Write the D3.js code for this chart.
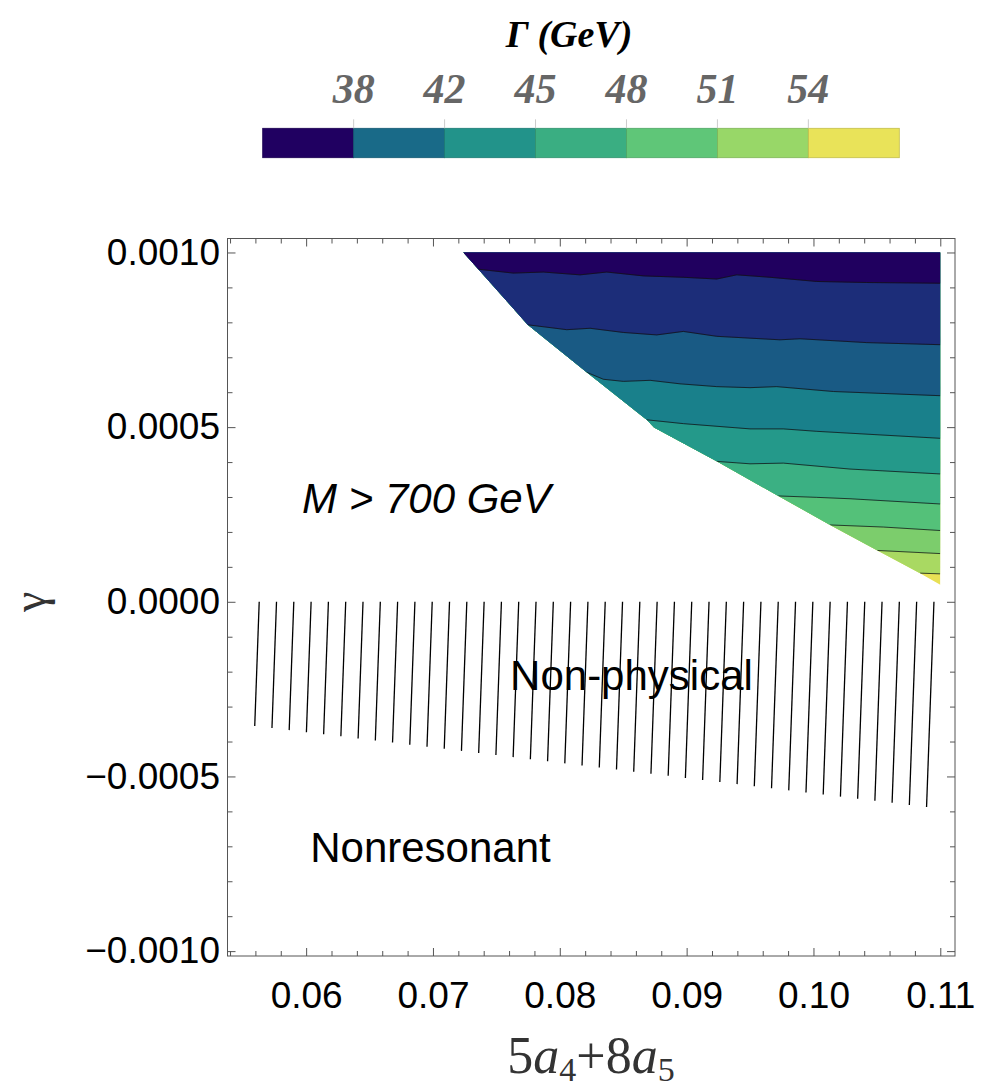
<!DOCTYPE html>
<html>
<head>
<meta charset="utf-8">
<script src="https://cdn.jsdelivr.net/npm/d3@7"></script>
<style>
	body { margin: 0; background: #fff; }
	svg { display: block; }
</style>
</head>
<body>
<svg id="chart" width="989" height="1089"></svg>
<script>
// Colour bar (Gamma in GeV)
const legendTicks = [38, 42, 45, 48, 51, 54];
const legendColors = ["#200061", "#196a88", "#22938a", "#3aae82", "#5fc678", "#98d768", "#e9e359"];

// Axis ticks
const xTicks = [0.06, 0.07, 0.08, 0.09, 0.10, 0.11];
const yTicks = [-0.001, -0.0005, 0, 0.0005, 0.001];

// Lower-left edge of the M < 700 GeV region, [5a4+8a5, gamma]
const regionEdge = [
	[0.07240, 0.001000],
	[0.07747, 0.000793],
	[0.08212, 0.000657],
	[0.08685, 0.000521],
	[0.08743, 0.000499],
	[0.09237, 0.000402],
	[0.09723, 0.000303],
	[0.10131, 0.000220],
	[0.10504, 0.000147],
	[0.10840, 0.000082],
	[0.11000, 0.000049]
];

// Contour lines, top to bottom
const contourLines = [
	[[0.07358, 0.000952], [0.07634, 0.000941], [0.07871, 0.000944], [0.08160, 0.000936], [0.08370, 0.000944], [0.08659, 0.000933], [0.08974, 0.000929], [0.09237, 0.000924], [0.09395, 0.000936], [0.09658, 0.000929], [0.10026, 0.000917], [0.10420, 0.000914], [0.11000, 0.000912]],
	[[0.07747, 0.000793], [0.08055, 0.000779], [0.08239, 0.000783], [0.08501, 0.000771], [0.08764, 0.000764], [0.08974, 0.000774], [0.09237, 0.000760], [0.09736, 0.000750], [0.09894, 0.000753], [0.10420, 0.000742], [0.11000, 0.000736]],
	[[0.08212, 0.000657], [0.08344, 0.000637], [0.08501, 0.000631], [0.08712, 0.000634], [0.08948, 0.000624], [0.09237, 0.000616], [0.09500, 0.000613], [0.09710, 0.000616], [0.10157, 0.000602], [0.11000, 0.000590]],
	[[0.08685, 0.000521], [0.08974, 0.000510], [0.09500, 0.000495], [0.09763, 0.000495], [0.10026, 0.000488], [0.11000, 0.000468]],
	[[0.09237, 0.000402], [0.09500, 0.000395], [0.09763, 0.000397], [0.10288, 0.000380], [0.11000, 0.000366]],
	[[0.09723, 0.000303], [0.10026, 0.000299], [0.10288, 0.000295], [0.11000, 0.000280]],
	[[0.10131, 0.000220], [0.10551, 0.000214], [0.11000, 0.000204]],
	[[0.10504, 0.000147], [0.11000, 0.000138]],
	[[0.10840, 0.000082], [0.11000, 0.000080]]
];

// Band fills, top to bottom
const bandColors = ["#20005f", "#1c2d79", "#195a84", "#19808b", "#24998a", "#3bb083", "#54c179", "#7ccd6c", "#a9d962", "#e8e055"];

// Non-physical (hatched) region: gamma from 0 down to a sloping edge
const nonPhysX = [0.0563, 0.1095];
const nonPhysLow = [-0.000357, -0.000590];

// Text in the plot
const annotations = [
	{text: "M > 700 GeV", x: 0.05968, y: 0.000254, italic: true},
	{text: "Non-physical", x: 0.07608, y: -0.000252, italic: false},
	{text: "Nonresonant", x: 0.06032, y: -0.000745, italic: false}
];

const svg = d3.select("#chart");

// Setup margins
const margin = {top: 238.5, left: 227.5};
const width = 727.5,
	height = 717.5;

const x = d3.scaleLinear().domain([0.0538, 0.11116]).range([0, width]);
const y = d3.scaleLinear().domain([-0.001014, 0.00104]).range([height, 0]);

const g = svg.append("g").attr("transform", "translate(" + margin.left + "," + margin.top + ")");

// Clip for the contour region
const regionPts = regionEdge.concat([[0.11, 0.001]]);
svg.append("defs").append("clipPath")
	.attr("id", "region")
	.append("path")
		.attr("d", "M" + regionPts.map(function(d) { return x(d[0]) + "," + y(d[1]); }).join("L") + "Z");

const bands = g.append("g").attr("clip-path", "url(#region)");

// Bottom band fills the whole region, upper bands painted over it
bands.append("rect")
	.attr("x", 0).attr("y", 0)
	.attr("width", width).attr("height", height)
	.attr("fill", bandColors[bandColors.length - 1]);

for (let i = contourLines.length - 1; i >= 0; i--) {
	const line = contourLines[i];
	const pts = line.map(function(d) { return [x(d[0]), y(d[1])]; });
	pts.push([width, 0], [0, 0], [0, y(line[0][1])]);
	bands.append("path")
		.attr("d", "M" + pts.join("L") + "Z")
		.attr("fill", bandColors[i])
		.attr("stroke", bandColors[i])
		.attr("stroke-width", 0.5);
}

const contour = d3.line()
	.x(function(d) { return x(d[0]); })
	.y(function(d) { return y(d[1]); });

bands.selectAll(".contour")
	.data(contourLines)
	.enter().append("path")
		.attr("class", "contour")
		.attr("d", contour)
		.attr("fill", "none")
		.attr("stroke", "#111")
		.attr("stroke-opacity", 0.75)
		.attr("stroke-width", 1);

// Hatching of the non-physical region
const hatchCount = 40;
const tilt = 0.036;
const x0 = x(nonPhysX[0]), x1 = x(nonPhysX[1]);
const yTop = y(0);
const b = (y(nonPhysLow[1]) - y(nonPhysLow[0])) / (x1 - x0);
const a = y(nonPhysLow[0]) - b * x0;
const hatch = d3.range(hatchCount).map(function(i) {
	const xt = x0 + i * (x1 - x0) / (hatchCount - 1);
	const yb = (a + b * xt + b * tilt * yTop) / (1 + b * tilt);
	return [xt, yTop, xt - tilt * (yb - yTop), yb];
});

g.selectAll(".hatch")
	.data(hatch)
	.enter().append("line")
		.attr("class", "hatch")
		.attr("x1", function(d) { return d[0]; })
		.attr("y1", function(d) { return d[1]; })
		.attr("x2", function(d) { return d[2]; })
		.attr("y2", function(d) { return d[3]; })
		.attr("stroke", "#000")
		.attr("stroke-width", 1.3);

// Annotations
g.selectAll(".note")
	.data(annotations)
	.enter().append("text")
		.attr("class", "note")
		.attr("x", function(d) { return x(d.x); })
		.attr("y", function(d) { return y(d.y); })
		.style("font", function(d) { return (d.italic ? "italic " : "") + "42px 'Liberation Sans'"; })
		.attr("fill", "#000")
		.text(function(d) { return d.text; });

// Axes
const xMinor = d3.range(27, 56).map(function(i) { return +(i * 0.002).toFixed(3); }).filter(function(v) { return xTicks.indexOf(v) < 0; });
const yMinor = d3.range(-10, 11).map(function(i) { return +(i * 0.0001).toFixed(4); }).filter(function(v) { return yTicks.indexOf(v) < 0; });

function styleAxis(sel) {
	sel.select(".domain").remove();
	sel.selectAll("line").attr("stroke", "#555");
	sel.selectAll("text")
		.attr("fill", "#000")
		.style("font", "37px 'Liberation Sans'");
}

// X Axis
g.append("g")
	.attr("transform", "translate(0," + height + ")")
	.call(d3.axisBottom(x).tickValues(xTicks).tickFormat(d3.format(".2f")).tickSizeInner(-8).tickSizeOuter(0).tickPadding(26))
	.call(styleAxis);
g.append("g")
	.attr("transform", "translate(0," + height + ")")
	.call(d3.axisBottom(x).tickValues(xMinor).tickFormat("").tickSizeInner(-5).tickSizeOuter(0))
	.call(styleAxis);
g.append("g")
	.call(d3.axisTop(x).tickValues(xTicks).tickFormat("").tickSizeInner(-8).tickSizeOuter(0))
	.call(styleAxis);
g.append("g")
	.call(d3.axisTop(x).tickValues(xMinor).tickFormat("").tickSizeInner(-5).tickSizeOuter(0))
	.call(styleAxis);

// Y Axis
g.append("g")
	.call(d3.axisLeft(y).tickValues(yTicks).tickFormat(d3.format(".4f")).tickSizeInner(-8).tickSizeOuter(0).tickPadding(7.5))
	.call(styleAxis);
g.append("g")
	.call(d3.axisLeft(y).tickValues(yMinor).tickFormat("").tickSizeInner(-5).tickSizeOuter(0))
	.call(styleAxis);
g.append("g")
	.attr("transform", "translate(" + width + ",0)")
	.call(d3.axisRight(y).tickValues(yTicks).tickFormat("").tickSizeInner(-8).tickSizeOuter(0))
	.call(styleAxis);
g.append("g")
	.attr("transform", "translate(" + width + ",0)")
	.call(d3.axisRight(y).tickValues(yMinor).tickFormat("").tickSizeInner(-5).tickSizeOuter(0))
	.call(styleAxis);

// Frame
g.append("rect")
	.attr("width", width)
	.attr("height", height)
	.attr("fill", "none")
	.attr("stroke", "#555")
	.attr("stroke-width", 1);

// Axis titles
svg.append("text")
	.attr("transform", "translate(45," + (margin.top + y(0)) + ") rotate(-90)")
	.attr("text-anchor", "middle")
	.style("font", "46px 'Liberation Serif'")
	.attr("fill", "#333")
	.text("γ");

const xTitle = svg.append("text")
	.attr("x", 591)
	.attr("y", 1073)
	.attr("text-anchor", "middle")
	.style("font", "52px 'Liberation Serif'")
	.attr("fill", "#333");
xTitle.append("tspan").text("5");
xTitle.append("tspan").style("font-style", "italic").text("a");
xTitle.append("tspan").attr("dy", 8).style("font-size", "34px").text("4");
xTitle.append("tspan").attr("dy", -8).text("+8");
xTitle.append("tspan").style("font-style", "italic").text("a");
xTitle.append("tspan").attr("dy", 8).style("font-size", "34px").text("5");

// Colour bar legend
const legendX = d3.scaleLinear().domain([0, legendColors.length]).range([262.7, 899.3]);
const legendTop = 128.3,
	legendH = 29.4;
const legend = svg.append("g");

legend.selectAll("rect")
	.data(legendColors)
	.enter().append("rect")
		.attr("x", function(d, i) { return legendX(i); })
		.attr("y", legendTop)
		.attr("width", function(d, i) { return legendX(i + 1) - legendX(i); })
		.attr("height", legendH)
		.attr("fill", function(d) { return d; })
		.attr("stroke", function(d) { return d3.color(d).darker(0.5); })
		.attr("stroke-width", 0.8);

legend.selectAll(".ltick")
	.data(legendTicks)
	.enter().append("line")
		.attr("class", "ltick")
		.attr("x1", function(d, i) { return legendX(i + 1); })
		.attr("x2", function(d, i) { return legendX(i + 1); })
		.attr("y1", legendTop - 9)
		.attr("y2", legendTop)
		.attr("stroke", "#ccc");

legend.selectAll(".llabel")
	.data(legendTicks)
	.enter().append("text")
		.attr("class", "llabel")
		.attr("x", function(d, i) { return legendX(i + 1); })
		.attr("y", 103)
		.attr("text-anchor", "middle")
		.style("font", "italic bold 42px 'Liberation Serif'")
		.attr("fill", "#666")
		.text(function(d) { return d; });

legend.append("text")
	.attr("x", 569)
	.attr("y", 47)
	.attr("text-anchor", "middle")
	.style("font", "italic bold 38px 'Liberation Serif'")
	.attr("fill", "#000")
	.text("Γ (GeV)");
</script>
</body>
</html>
